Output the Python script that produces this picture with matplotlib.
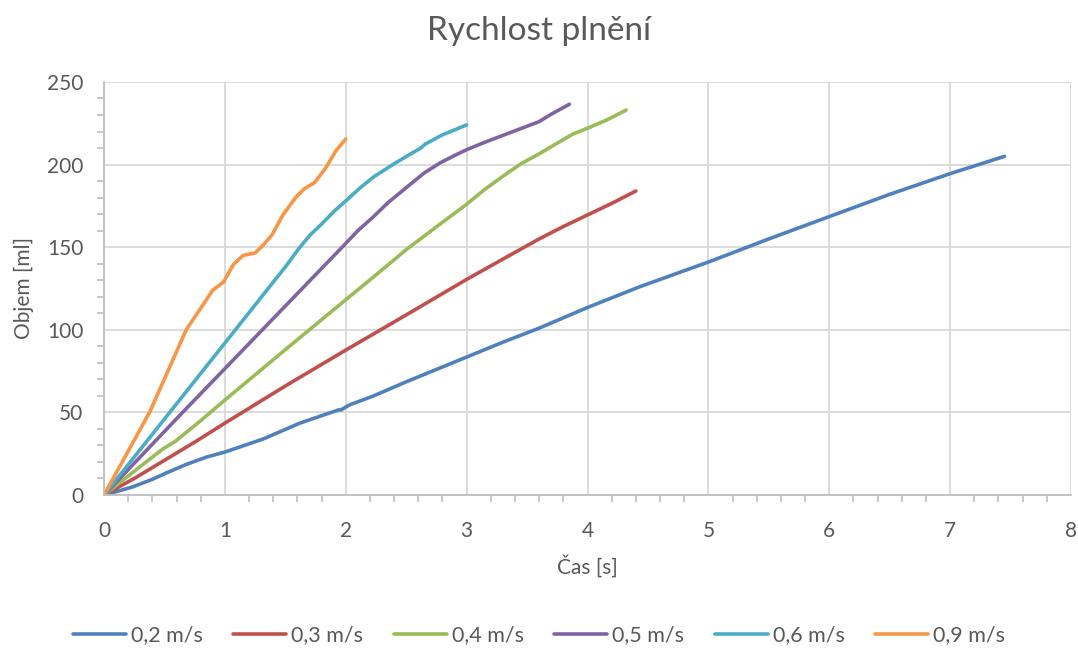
import matplotlib.pyplot as plt
from matplotlib.ticker import MultipleLocator

# data (time [s], volume [ml])
t_02 = [0, 0.1, 0.24, 0.4, 0.52, 0.68, 0.85, 1.0, 1.32, 1.62, 1.9, 1.94, 1.96,
        2.03, 2.23, 2.5, 3.0, 3.3, 3.6, 4.0, 4.43, 5.0, 5.5, 6.0, 6.5, 7.0, 7.45]
v_02 = [0, 2, 5, 9.5, 13.5, 18.5, 23, 26, 34, 43.5, 50.5, 51.5, 51.5,
        54.5, 60, 68.5, 83.5, 92.5, 101, 113.5, 126, 141, 155, 168.5, 182, 194.5, 205]

t_03 = [0, 0.25, 0.5, 0.75, 1.0, 1.5, 2.03, 2.5, 3.0, 3.33, 3.6, 3.8, 4.0, 4.2, 4.4]
v_03 = [0, 10, 21, 32, 43.5, 66, 89, 109, 130.5, 144, 155, 162.5, 169.5, 176.5, 184]

t_04 = [0, 0.2, 0.4, 0.49, 0.59, 0.8, 1.0, 1.5, 2.03, 2.23, 2.5, 2.78, 3.0,
        3.15, 3.33, 3.45, 3.6, 3.75, 3.88, 4.0, 4.16, 4.32]
v_04 = [0, 11.5, 23, 28, 32.5, 45, 57.5, 88, 120, 132, 148.5, 164, 176,
        185, 194.5, 200.5, 206.5, 213, 218.5, 222, 227, 233]

t_05 = [0, 0.65, 1.31, 1.97, 2.1, 2.23, 2.35, 2.5, 2.65, 2.78, 2.9, 3.0,
        3.15, 3.33, 3.6, 3.7, 3.85]
v_05 = [0, 50, 100, 150, 160, 168.5, 177, 186, 195, 201, 205.5, 209,
        213.5, 218.5, 226, 230.5, 236.5]

t_06 = [0, 0.5, 1.0, 1.51, 1.61, 1.70, 1.80, 1.90, 2.0, 2.12, 2.23, 2.4,
        2.55, 2.62, 2.66, 2.8, 3.0]
v_06 = [0, 46, 92, 139, 149, 157, 164, 171.5, 178, 186, 192.5, 200.5,
        207, 210, 212.5, 218, 224]

t_09 = [0, 0.38, 0.68, 0.79, 0.90, 0.99, 1.07, 1.15, 1.25, 1.32, 1.39, 1.48,
        1.59, 1.66, 1.74, 1.83, 1.92, 2.0]
v_09 = [0, 50.5, 100, 112, 124, 129, 139.5, 145, 146.5, 151.5, 157.5, 169.5,
        180.5, 185.5, 189, 197.5, 208.5, 215.5]

series = [
    ("0,2 m/s", t_02, v_02, "#4F81BD"),
    ("0,3 m/s", t_03, v_03, "#C0504D"),
    ("0,4 m/s", t_04, v_04, "#9BBB59"),
    ("0,5 m/s", t_05, v_05, "#8064A2"),
    ("0,6 m/s", t_06, v_06, "#4BACC6"),
    ("0,9 m/s", t_09, v_09, "#F79646"),
]

plt.rcParams['font.family'] = ['Lato', 'DejaVu Sans']
text_col = '#595959'
axis_col = '#BFBFBF'
grid_col = '#D9D9D9'

fig = plt.figure(figsize=(10.78, 6.48), dpi=100)
ax = fig.add_axes([0.0965, 0.2361, 0.897, 0.6374])

for label, t, v, col in series:
    ax.plot(t, v, color=col, linewidth=2.6, label=label,
            solid_capstyle='round', solid_joinstyle='round')

ax.set_xlim(0, 8)
ax.set_ylim(0, 250)
ax.xaxis.set_major_locator(MultipleLocator(1))
ax.xaxis.set_minor_locator(MultipleLocator(0.2))
ax.yaxis.set_major_locator(MultipleLocator(50))
ax.yaxis.set_minor_locator(MultipleLocator(10))

ax.grid(True, which='major', color=grid_col, linewidth=1.3)
ax.set_axisbelow(True)
for side in ['top', 'right']:
    ax.spines[side].set_visible(False)
for side in ['left', 'bottom']:
    ax.spines[side].set_color(axis_col)
    ax.spines[side].set_linewidth(1.3)

ax.tick_params(which='both', color=axis_col, width=1.2, labelcolor=text_col,
               labelsize=15)
ax.tick_params(which='major', length=0)
ax.tick_params(axis='x', which='major', pad=19)
ax.tick_params(axis='y', which='major', pad=15)
ax.tick_params(which='minor', length=5)

ax.set_xlabel('Čas [s]', fontsize=15, color=text_col, labelpad=10)
ax.set_ylabel('Objem [ml]', fontsize=15, color=text_col, labelpad=9)
fig.suptitle('Rychlost plnění', fontsize=24, color=text_col, y=0.975)

leg = fig.legend(loc='center', bbox_to_anchor=(0.5, 0.02), ncol=6,
                 frameon=False, fontsize=15.5, handlelength=2.45,
                 handletextpad=0.23, columnspacing=1.43)
for txt in leg.get_texts():
    txt.set_color(text_col)

fig.savefig('out.png', dpi=100)
